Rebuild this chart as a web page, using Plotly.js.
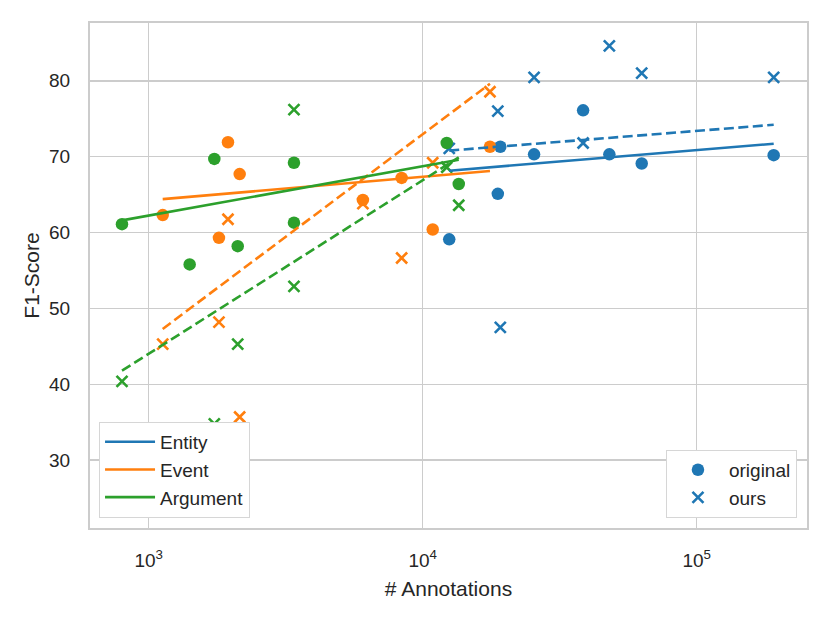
<!DOCTYPE html>
<html>
<head>
<meta charset="utf-8">
<script src="https://cdn.plot.ly/plotly-3.0.1.min.js"></script>
<style>
  html, body { margin: 0; padding: 0; background: #ffffff; }
  #graph { width: 830px; height: 623px; }
</style>
</head>
<body>
<div id="graph"></div>
<script>
"use strict";

// --- data ---
const entityX = [12500, 18800, 19200, 25500, 38500, 48000, 63000, 191000];
const entityOriginal = [59.1, 65.1, 71.3, 70.3, 76.1, 70.3, 69.1, 70.2];
const entityOurs = [71.1, 76.0, 47.5, 80.45, 71.8, 84.6, 81.0, 80.45];

const eventX = [1125, 1805, 1947, 2148, 6050, 8380, 10880, 17600];
const eventOriginal = [62.3, 59.3, 71.9, 67.7, 64.3, 67.2, 60.4, 71.3];
const eventOurs = [45.3, 48.2, 61.75, 35.7, 63.8, 56.65, 69.2, 78.55];

const argumentX = [799, 1411, 1736, 2113, 3390, 3390, 12240, 13540];
const argumentOriginal = [61.1, 55.8, 69.7, 58.2, 69.2, 61.3, 71.8, 66.4];
const argumentOurs = [40.4, 24.0, 34.8, 45.3, 76.2, 52.9, 68.6, 63.6];

// fitted trend lines (end points)
const entityFitX = [12500, 191000];
const entityFitOriginal = [68.15, 71.7];
const entityFitOurs = [70.8, 74.2];
const eventFitX = [1125, 17600];
const eventFitOriginal = [64.4, 68.1];
const eventFitOurs = [47.3, 79.6];
const argumentFitX = [799, 13540];
const argumentFitOriginal = [61.6, 69.6];
const argumentFitOurs = [41.8, 69.9];

const xTickVals = [1e3, 1e4, 1e5];
const xTickText = ['10<sup>3</sup>', '10<sup>4</sup>', '10<sup>5</sup>'];
const yTickVals = [30, 40, 50, 60, 70, 80];

const groups = [
    { name: 'Entity', color: '#1f77b4', x: entityX, orig: entityOriginal, ours: entityOurs,
      fitX: entityFitX, fitOrig: entityFitOriginal, fitOurs: entityFitOurs },
    { name: 'Event', color: '#ff7f0e', x: eventX, orig: eventOriginal, ours: eventOurs,
      fitX: eventFitX, fitOrig: eventFitOriginal, fitOurs: eventFitOurs },
    { name: 'Argument', color: '#2ca02c', x: argumentX, orig: argumentOriginal, ours: argumentOurs,
      fitX: argumentFitX, fitOrig: argumentFitOriginal, fitOurs: argumentFitOurs }
];

const FONT = 'Liberation Sans, Arial, sans-serif';
const TEXT = '#262626';
const GRID = '#cccccc';

const traces = [];
groups.forEach((g, i) => {
    traces.push({
        x: g.x, y: g.orig, type: 'scatter', mode: 'markers',
        name: 'original', legend: 'legend2', showlegend: i === 0,
        marker: { symbol: 'circle', size: 12.5, color: g.color, line: { width: 0 } },
        hoverinfo: 'x+y'
    });
    traces.push({
        x: g.x, y: g.ours, type: 'scatter', mode: 'markers',
        name: 'ours', legend: 'legend2', showlegend: i === 0,
        marker: { symbol: 'x-thin', size: 11, color: g.color, line: { width: 2.6, color: g.color } },
        hoverinfo: 'x+y'
    });
});
groups.forEach(g => {
    traces.push({
        x: g.fitX, y: g.fitOrig, type: 'scatter', mode: 'lines',
        name: g.name, legend: 'legend', showlegend: true,
        line: { color: g.color, width: 2.6 }
    });
    traces.push({
        x: g.fitX, y: g.fitOurs, type: 'scatter', mode: 'lines',
        name: g.name + ' (ours)', showlegend: false,
        line: { color: g.color, width: 2.6, dash: '10px,4.5px' }
    });
});

const legendStyle = {
    bgcolor: '#ffffff', bordercolor: '#d6d6d6', borderwidth: 1,
    font: { family: FONT, size: 19, color: TEXT },
    yanchor: 'bottom', tracegroupgap: 0
};

const layout = {
    width: 830, height: 623,
    margin: { l: 90, r: 23, t: 23, b: 95 },
    paper_bgcolor: '#ffffff', plot_bgcolor: '#ffffff',
    font: { family: FONT, color: TEXT },
    showlegend: true,
    xaxis: {
        type: 'log', range: [2.7858, 5.4026],
        tickvals: xTickVals, ticktext: xTickText,
        tickfont: { family: FONT, size: 19, color: TEXT },
        ticks: 'outside', ticklen: 14, tickcolor: 'rgba(0,0,0,0)',
        showgrid: true, gridcolor: GRID, gridwidth: 1.6,
        showline: true, mirror: true, linecolor: GRID, linewidth: 2,
        zeroline: false,
        title: { text: '# Annotations', font: { family: FONT, size: 21, color: TEXT }, standoff: 12 }
    },
    yaxis: {
        range: [21.07, 87.61],
        tickvals: yTickVals,
        tickfont: { family: FONT, size: 19, color: TEXT },
        ticks: 'outside', ticklen: 14, tickcolor: 'rgba(0,0,0,0)',
        showgrid: true, gridcolor: GRID, gridwidth: 1.6,
        showline: true, mirror: true, linecolor: GRID, linewidth: 2,
        zeroline: false,
        title: { text: 'F1-Score', font: { family: FONT, size: 21, color: TEXT }, standoff: 4 }
    },
    legend: Object.assign({}, legendStyle, { x: 0.0126, xanchor: 'left', y: 0.02, itemwidth: 50 }),
    legend2: Object.assign({}, legendStyle, { x: 0.986, xanchor: 'right', y: 0.02, itemwidth: 52 })
};

Plotly.newPlot('graph', traces, layout, { staticPlot: true }).catch(err => {
    console.error('Grafik çizilirken hata:', err);
});
</script>
</body>
</html>
